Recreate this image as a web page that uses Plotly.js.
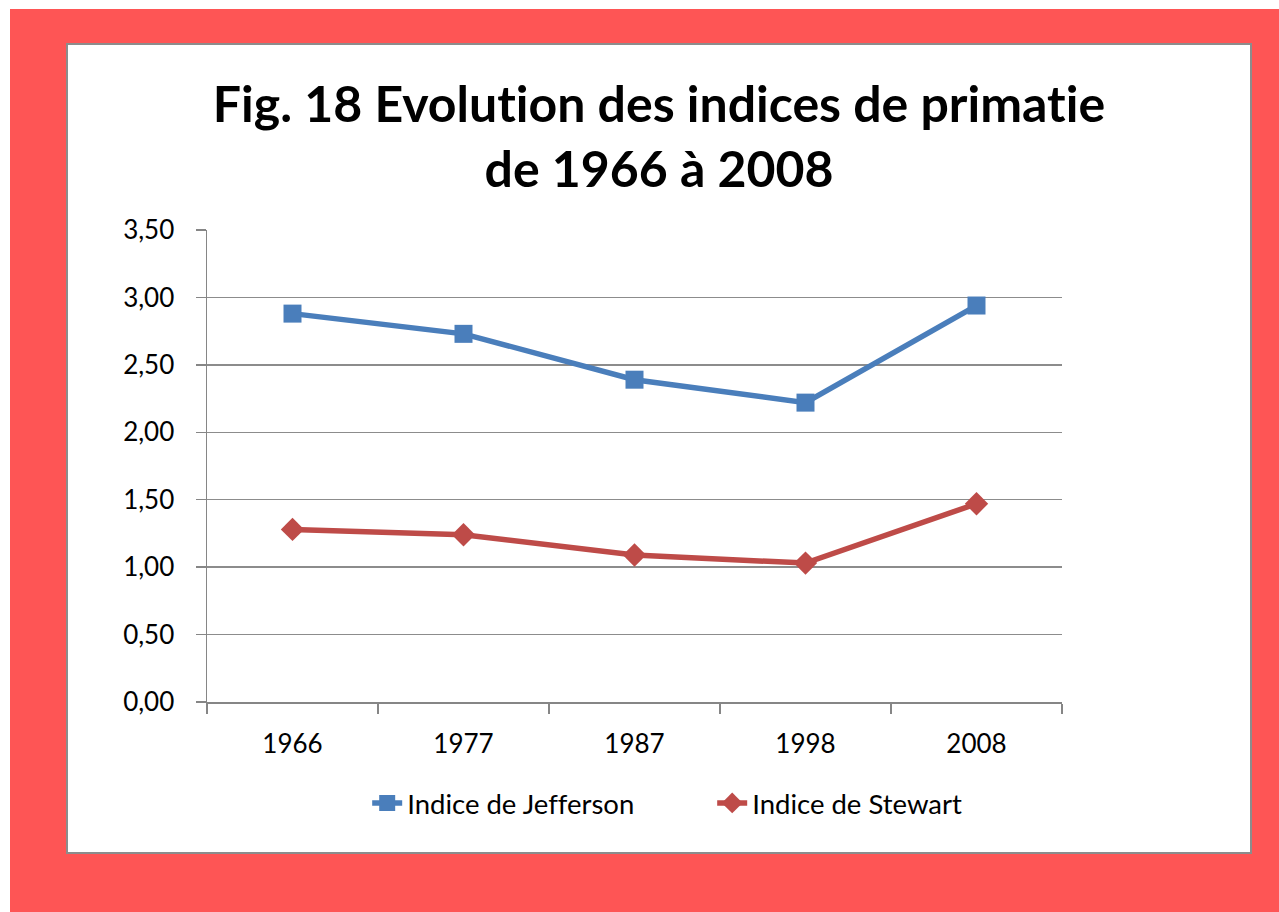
<!DOCTYPE html>
<html>
<head>
<meta charset="utf-8">
<script src="https://cdn.plot.ly/plotly-3.0.1.min.js"></script>
<style>
  html, body { margin: 0; padding: 0; width: 1279px; height: 912px; background: #ffffff; overflow: hidden; }
  #frame { position: absolute; left: 10px; top: 9px; width: 1269px; height: 903px; background: #fe5555; }
  #chart { position: absolute; left: 66px; top: 43px; width: 1182px; height: 807px;
           border: 2px solid #8c8c8c; background: #ffffff; }
  #chart svg text { font-variant-ligatures: none !important; font-feature-settings: "liga" 0, "clig" 0 !important; }
</style>
</head>
<body>
<div id="frame"></div>
<div id="chart"></div>
<script>
// Data
const years = ['1966', '1977', '1987', '1998', '2008'];
const jefferson = [2.88, 2.73, 2.39, 2.22, 2.94];
const stewart = [1.28, 1.24, 1.09, 1.03, 1.47];

const FONT = 'Lato, "Open Sans", sans-serif';

const traces = [
    { x: years, y: jefferson, name: 'Indice de Jefferson', type: 'scatter', mode: 'lines+markers',
      line: {color: '#4a7ebb', width: 5.5}, marker: {symbol: 'square', size: 18, color: '#4a7ebb'} },
    { x: years, y: stewart, name: 'Indice de Stewart', type: 'scatter', mode: 'lines+markers',
      line: {color: '#be4b48', width: 5.5}, marker: {symbol: 'diamond', size: 18, color: '#be4b48'} }
];

const layout = {
    width: 1182,
    height: 807,
    paper_bgcolor: '#ffffff',
    plot_bgcolor: '#ffffff',
    separators: ', ',
    font: { family: FONT, size: 26, color: '#000000' },
    margin: { l: 139, r: 188, t: 185, b: 150 },
    title: {
        text: '<b>Fig. 18 Evolution des indices de primatie<br>de 1966 à 2008</b>',
        font: { family: FONT, size: 50, color: '#000000' },
        x: 0.5, xref: 'container', xanchor: 'center',
        y: 1 - 77 / 807, yref: 'container', yanchor: 'middle'
    },
    showlegend: true,
    legend: {
        orientation: 'h', xref: 'container', yref: 'container',
        x: 0.545, xanchor: 'center', y: 1 - 758 / 807, yanchor: 'middle',
        font: { family: FONT, size: 27.5 }, entrywidth: 300, entrywidthmode: 'pixels'
    },
    xaxis: {
        type: 'category', range: [-0.5, 4.5], tickson: 'boundaries', ticks: 'outside', ticklen: 10,
        tickcolor: '#868686', tickwidth: 1.5, showgrid: false, showline: true,
        linecolor: '#868686', linewidth: 1.5, zeroline: false, fixedrange: true,
        ticklabelstandoff: 18
    },
    yaxis: {
        range: [0, 3.5], dtick: 0.5, tickformat: '.2f', ticks: 'outside', ticklen: 10,
        tickcolor: '#868686', tickwidth: 1.5, showgrid: true, gridcolor: '#8c8c8c', gridwidth: 1.5,
        showline: true, linecolor: '#868686', linewidth: 1.5, zeroline: false, fixedrange: true,
        ticklabelstandoff: 16
    }
};

Plotly.newPlot('chart', traces, layout, { displayModeBar: false, staticPlot: true });
</script>
</body>
</html>
